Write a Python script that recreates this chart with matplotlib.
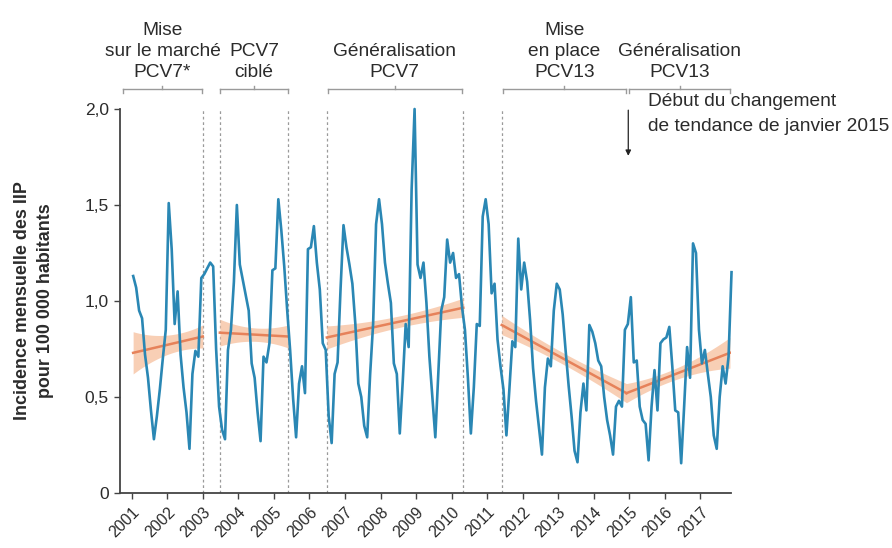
import numpy as np
import matplotlib
matplotlib.use("Agg")
import matplotlib.pyplot as plt
import matplotlib.transforms as mtransforms

plt.rcParams["font.family"] = ["Liberation Sans", "DejaVu Sans"]

# Monthly IIP incidence per 100 000 inhabitants, January 2001 onwards
incidence_2001 = [1.13, 1.07, 0.95, 0.91, 0.72, 0.60, 0.43, 0.28, 0.40, 0.54, 0.70, 0.85]
incidence_2002 = [1.51, 1.27, 0.88, 1.05, 0.72, 0.55, 0.42, 0.23, 0.62, 0.74, 0.71, 1.12]
incidence_2003 = [1.14, 1.17, 1.20, 1.18, 0.75, 0.45, 0.33, 0.28, 0.745, 0.85, 1.10, 1.50]
incidence_2004 = [1.19, 1.11, 1.03, 0.95, 0.675, 0.60, 0.42, 0.27, 0.71, 0.68, 0.78, 1.16]
incidence_2005 = [1.17, 1.53, 1.37, 1.18, 0.95, 0.74, 0.49, 0.29, 0.57, 0.66, 0.52, 1.27]
incidence_2006 = [1.28, 1.39, 1.20, 1.06, 0.78, 0.745, 0.40, 0.26, 0.62, 0.68, 1.06, 1.395]
incidence_2007 = [1.28, 1.19, 1.09, 0.88, 0.57, 0.50, 0.35, 0.29, 0.62, 0.88, 1.40, 1.53]
incidence_2008 = [1.40, 1.20, 1.09, 0.99, 0.675, 0.62, 0.31, 0.58, 0.88, 0.76, 1.58, 2.00]
incidence_2009 = [1.19, 1.12, 1.20, 0.99, 0.71, 0.50, 0.29, 0.62, 0.95, 1.02, 1.32, 1.20]
incidence_2010 = [1.25, 1.12, 1.14, 0.97, 0.85, 0.60, 0.31, 0.55, 0.88, 0.87, 1.44, 1.53]
incidence_2011 = [1.40, 1.04, 1.09, 0.80, 0.66, 0.54, 0.30, 0.54, 0.79, 0.76, 1.325, 1.06]
incidence_2012 = [1.20, 1.10, 0.90, 0.65, 0.48, 0.34, 0.20, 0.55, 0.70, 0.66, 0.95, 1.09]
incidence_2013 = [1.06, 0.93, 0.74, 0.56, 0.40, 0.22, 0.16, 0.42, 0.57, 0.43, 0.875, 0.84]
incidence_2014 = [0.78, 0.69, 0.66, 0.50, 0.38, 0.30, 0.20, 0.45, 0.48, 0.45, 0.85, 0.88]
incidence_2015 = [1.02, 0.68, 0.69, 0.45, 0.38, 0.36, 0.17, 0.45, 0.64, 0.43, 0.78, 0.80]
incidence_2016 = [0.81, 0.865, 0.66, 0.43, 0.42, 0.155, 0.45, 0.76, 0.60, 1.30, 1.25, 0.85]
incidence_2017 = [0.675, 0.745, 0.62, 0.50, 0.30, 0.23, 0.50, 0.66, 0.57, 0.71, 1.15]

monthly_incidence = np.concatenate([
    incidence_2001, incidence_2002, incidence_2003, incidence_2004,
    incidence_2005, incidence_2006, incidence_2007, incidence_2008,
    incidence_2009, incidence_2010, incidence_2011, incidence_2012,
    incidence_2013, incidence_2014, incidence_2015, incidence_2016,
    incidence_2017,
])
first_year = 2001
month_time = first_year + (np.arange(len(monthly_incidence)) + 0.5) / 12.0

tick_years = list(range(2001, 2018))
y_ticks = [0, 0.5, 1.0, 1.5, 2.0]
y_tick_labels = ["0", "0,5", "1,0", "1,5", "2,0"]

# Vaccination periods (brackets above the plot)
period_labels = [
    "Mise\nsur le marché\nPCV7*",
    "PCV7\nciblé",
    "Généralisation\nPCV7",
    "Mise\nen place\nPCV13",
    "Généralisation\nPCV13",
]
period_starts = [2000.75, 2003.48, 2006.52, 2011.45, 2015.0]
period_ends = [2002.98, 2005.41, 2010.28, 2014.90, 2017.83]
period_boundaries = [2003.0, 2003.48, 2005.41, 2006.49, 2010.33, 2011.41]

# Segmented regression trends with confidence band half-widths
trend_x0 = [2001.04, 2003.48, 2006.49, 2011.41, 2014.92]
trend_x1 = [2003.00, 2005.41, 2010.33, 2014.92, 2017.83]
trend_y0 = [0.73, 0.835, 0.81, 0.875, 0.52]
trend_y1 = [0.815, 0.815, 0.965, 0.52, 0.73]
ci_start = [0.11, 0.07, 0.06, 0.05, 0.05]
ci_mid = [0.05, 0.035, 0.03, 0.03, 0.03]
ci_end = [0.06, 0.06, 0.05, 0.05, 0.08]

change_point = 2014.97

BLUE = "#2a87b4"
ORANGE = "#e6825a"
BAND = "#f7c3a3"
GREY = "#9a9a9a"
TEXT = "#2b2b2b"

fig = plt.figure(figsize=(8.92, 5.48), dpi=100)
ax = fig.add_axes([0.1345, 0.1004, 0.685, 0.7007])

# trend lines and confidence bands
for x0, x1, y0, y1, c0, cm, c1 in zip(trend_x0, trend_x1, trend_y0, trend_y1,
                                      ci_start, ci_mid, ci_end):
    xs = np.linspace(x0, x1, 60)
    fit = y0 + (y1 - y0) * (xs - x0) / (x1 - x0)
    coef = np.polyfit([x0, (x0 + x1) / 2, x1], [c0, cm, c1], 2)
    half = np.polyval(coef, xs)
    ax.fill_between(xs, fit - half, fit + half, color=BAND, alpha=0.8, lw=0, zorder=2)
    ax.plot(xs, fit, color=ORANGE, lw=1.8, zorder=3)

# period boundaries
for b in period_boundaries:
    ax.axvline(b, color=GREY, lw=0.9, ls=(0, (2.2, 2.2)), zorder=1)

# monthly incidence
ax.plot(month_time, monthly_incidence, color=BLUE, lw=1.9, zorder=4,
        solid_joinstyle="round", clip_on=False)

ax.set_xlim(2000.67, 2017.86)
ax.set_ylim(0, 2.0)
ax.set_xticks(tick_years)
ax.set_xticklabels([str(y) for y in tick_years], rotation=45, ha="right",
                   rotation_mode="anchor", fontsize=11.5, color=TEXT)
ax.set_yticks(y_ticks)
ax.set_yticklabels(y_tick_labels, fontsize=12.5, color=TEXT)
ax.tick_params(axis="both", direction="out", length=4.5, width=1.0, color="#444444")
ax.tick_params(axis="x", pad=4)
ax.tick_params(axis="y", pad=3.5)

for side in ("top", "right"):
    ax.spines[side].set_visible(False)
for side in ("left", "bottom"):
    ax.spines[side].set_color("#444444")
    ax.spines[side].set_linewidth(1.3)

ax.set_ylabel("Incidence mensuelle des IIP\npour 100 000 habitants",
              fontsize=12.9, fontweight="bold", color=TEXT, linespacing=1.45)
ax.yaxis.set_label_coords(-0.108, 0.5)

# brackets and period labels above the axes
blend = mtransforms.blended_transform_factory(ax.transData, ax.transAxes)
yb = 1.052
tick_h = 0.011
for label, s, e in zip(period_labels, period_starts, period_ends):
    c = (s + e) / 2
    ax.plot([s, e], [yb, yb], color=GREY, lw=1.0, transform=blend, clip_on=False)
    ax.plot([s, s], [yb, yb - tick_h], color=GREY, lw=1.0, transform=blend, clip_on=False)
    ax.plot([e, e], [yb, yb - tick_h], color=GREY, lw=1.0, transform=blend, clip_on=False)
    ax.plot([c, c], [yb, yb + tick_h * 0.8], color=GREY, lw=1.0, transform=blend, clip_on=False)
    ax.text(c, 1.073, label, transform=blend, ha="center", va="bottom",
            fontsize=13.8, color=TEXT, linespacing=1.3)

# change-point annotation
ax.annotate("", xy=(change_point, 0.878), xytext=(change_point, 0.997),
            xycoords=blend, textcoords=blend,
            arrowprops=dict(arrowstyle="-|>", color="#222222", lw=0.9,
                            mutation_scale=8, shrinkA=0, shrinkB=0))
ax.text(change_point + 0.56, 0.988, "Début du changement\nde tendance de janvier 2015",
        transform=blend, ha="left", va="center", fontsize=13.8, color=TEXT,
        linespacing=1.6)

fig.savefig("out.png", dpi=100)
